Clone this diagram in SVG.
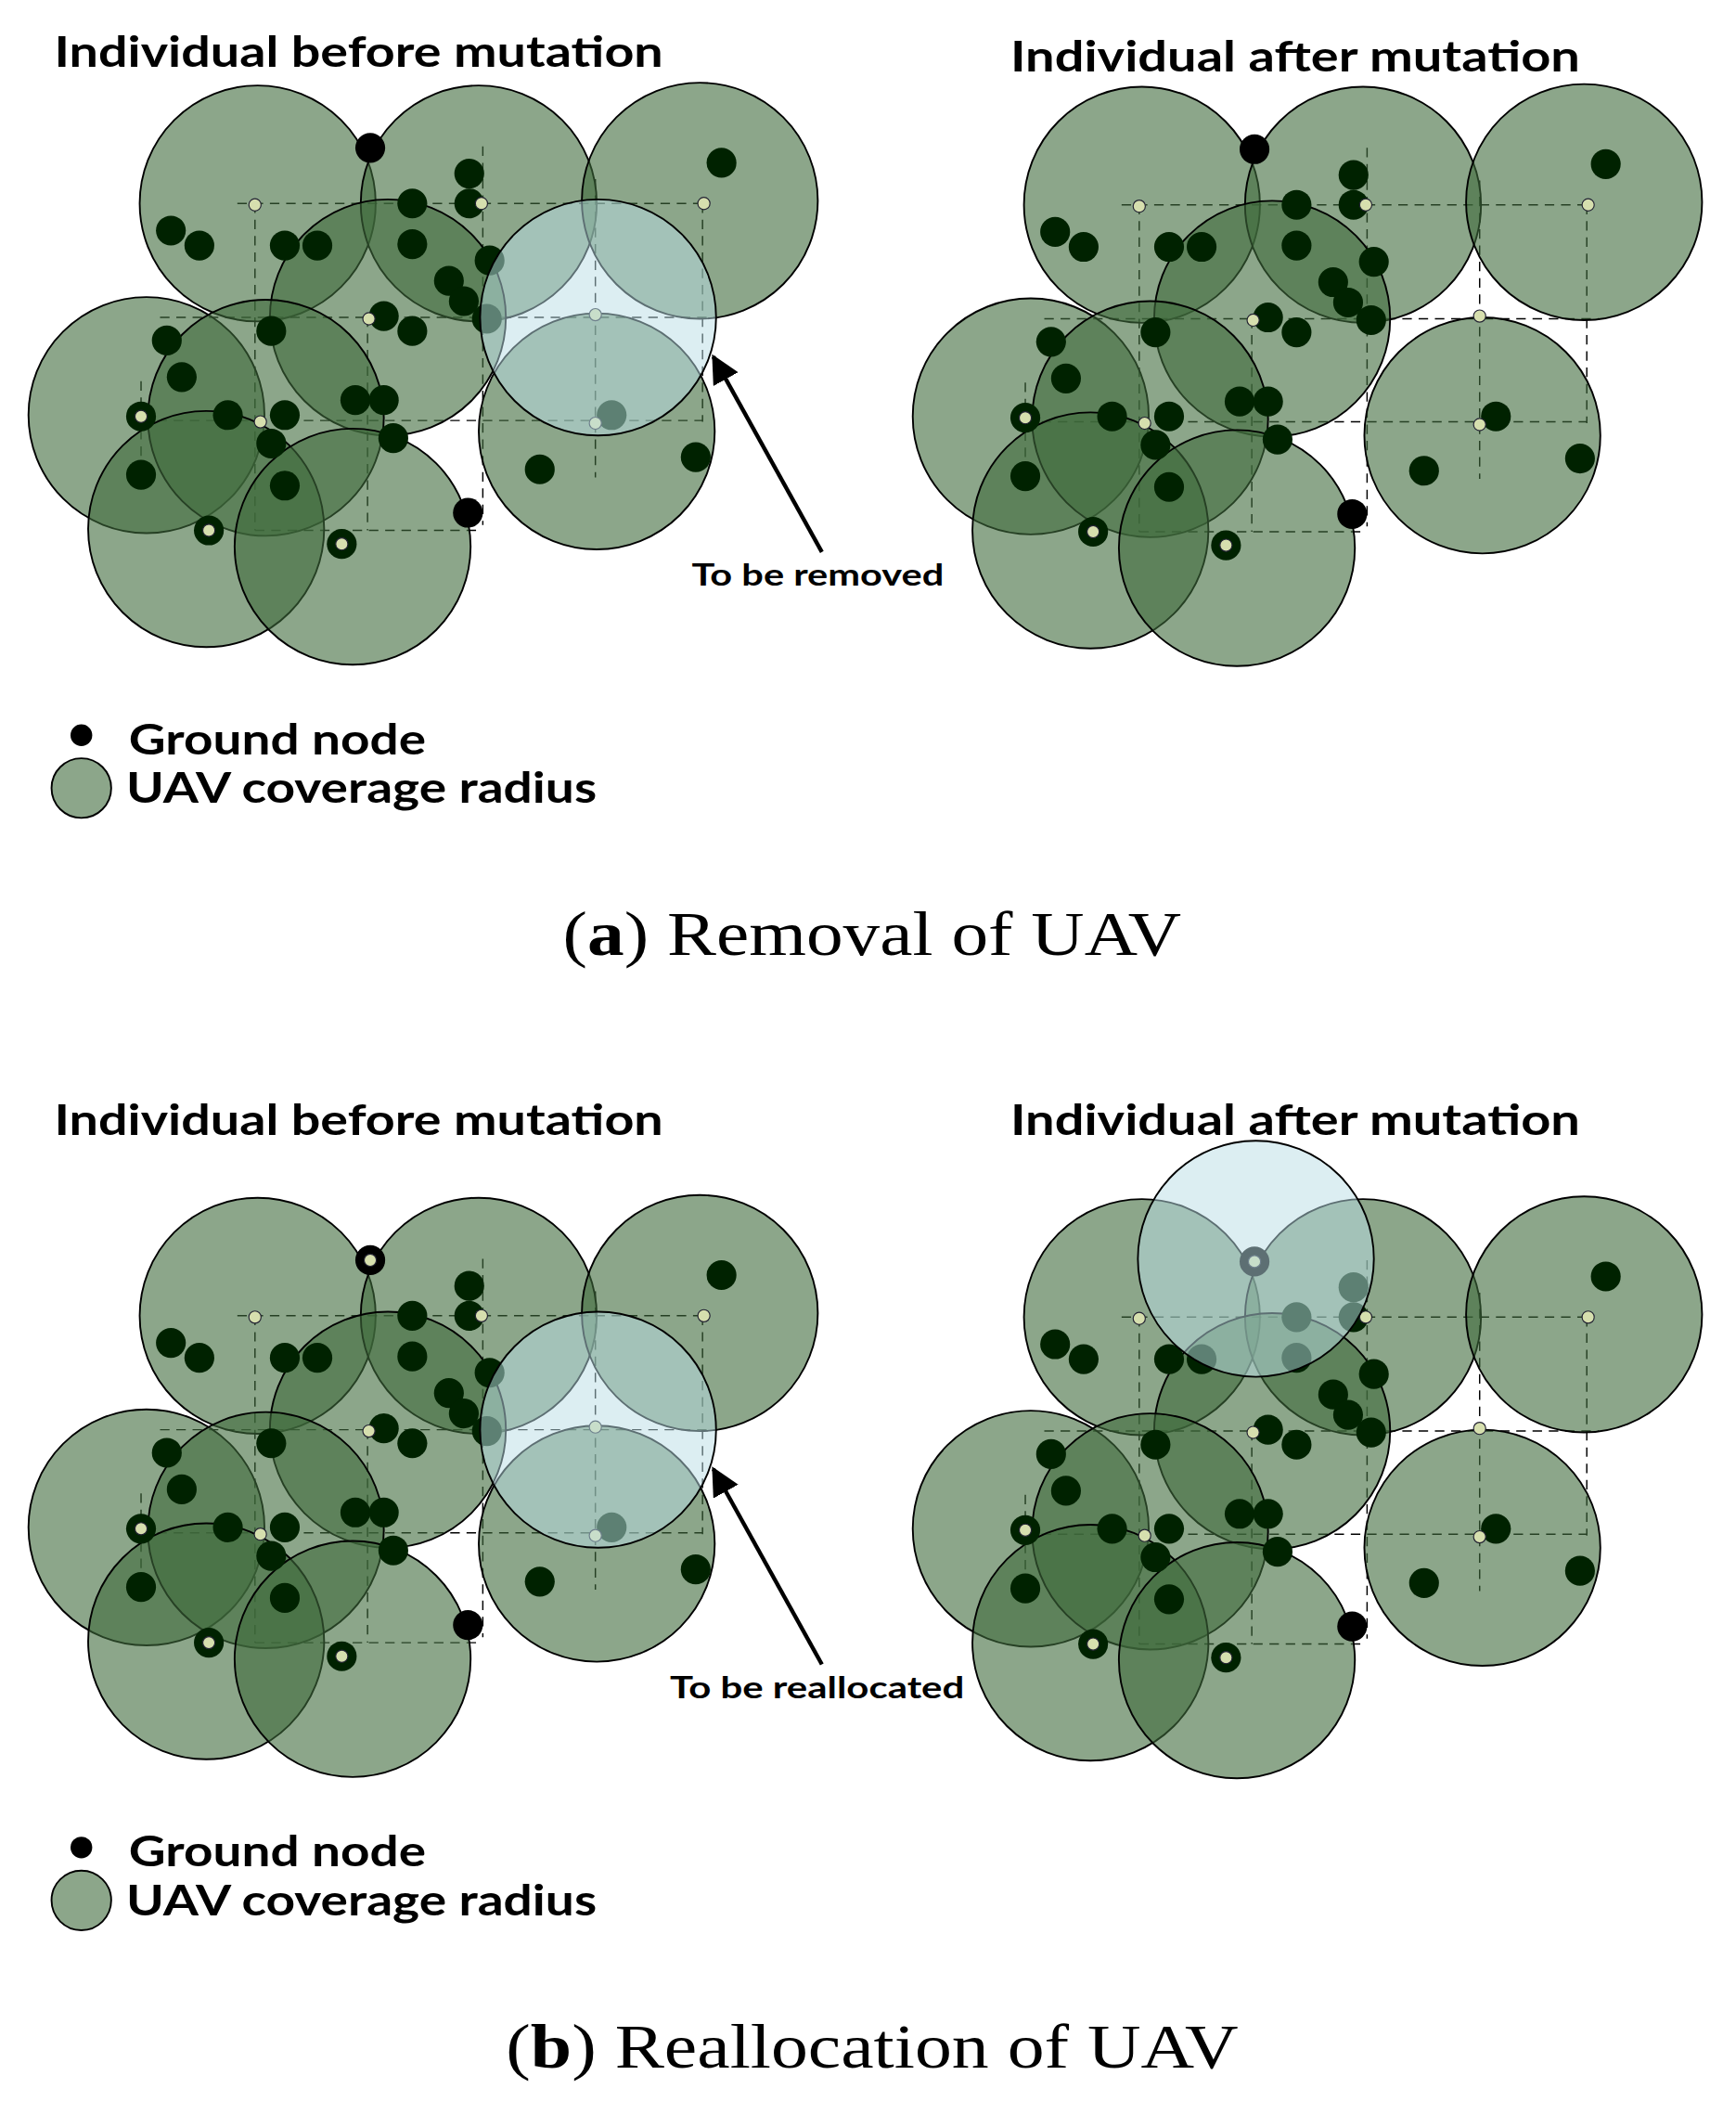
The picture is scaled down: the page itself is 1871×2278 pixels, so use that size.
<svg xmlns="http://www.w3.org/2000/svg" xmlns:xlink="http://www.w3.org/1999/xlink" width="1871" height="2278" viewBox="0 0 1871 2278">
<style>
.g{fill:#3f6a3c;fill-opacity:0.6;stroke:#000;stroke-width:1.3}
.b{fill:#b9dde6;fill-opacity:0.5;stroke:#000;stroke-width:1.3}
.n{fill:#002200}
.u{fill:#d6dfae;stroke:#223;stroke-width:0.8}
.d{stroke:#000;stroke-width:1;stroke-dasharray:7 5;fill:none}
.t{font-family:Lato,"Open Sans","Liberation Sans",sans-serif;font-weight:bold;fill:#000}
.c{font-family:"Liberation Serif",serif;fill:#000;font-size:46px}
</style>
<defs>
<marker id="ah" viewBox="0 0 10 10" refX="9" refY="5" markerWidth="7" markerHeight="7" orient="auto"><path d="M0,0L10,5L0,10z" fill="#000"/></marker>
<g id="grid" class="d">
<path d="M175,150H518M118,234H527M104,310H518M188,391H356M188,150V391M356,108V387M439,132V352M518,150V311M271,234V391M104,281V338"/>
</g>
<g id="circ">
<circle class="g" cx="190" cy="150" r="87"/><circle class="g" cx="353" cy="150" r="87"/><circle class="g" cx="516" cy="148" r="87"/>
<circle class="g" cx="286" cy="234" r="87"/><circle class="g" cx="108" cy="306" r="87"/><circle class="g" cx="196" cy="308" r="87"/>
<circle class="g" cx="152" cy="390" r="87"/><circle class="g" cx="260" cy="403" r="87"/>
</g>
<g id="nodes" class="n">
<circle cx="346" cy="128" r="11"/><circle cx="346" cy="150" r="11"/><circle cx="532" cy="120" r="11"/><circle cx="126" cy="170" r="11"/><circle cx="147" cy="181" r="11"/><circle cx="210" cy="181" r="11"/><circle cx="234" cy="181" r="11"/><circle cx="304" cy="150" r="11"/><circle cx="304" cy="180" r="11"/><circle cx="361" cy="192" r="11"/><circle cx="331" cy="207" r="11"/><circle cx="342" cy="222" r="11"/><circle cx="359" cy="235" r="11"/><circle cx="283" cy="233" r="11"/><circle cx="304" cy="244" r="11"/><circle cx="200" cy="244" r="11"/><circle cx="123" cy="251" r="11"/><circle cx="134" cy="278" r="11"/><circle cx="168" cy="306" r="11"/><circle cx="210" cy="306" r="11"/><circle cx="262" cy="295" r="11"/><circle cx="283" cy="295" r="11"/><circle cx="290" cy="323" r="11"/><circle cx="200" cy="327" r="11"/><circle cx="104" cy="350" r="11"/><circle cx="210" cy="358" r="11"/><circle cx="345" cy="378" r="11" fill="#000"/><circle cx="398" cy="346" r="11"/><circle cx="513" cy="337" r="11"/><circle cx="451" cy="306" r="11"/>
<circle cx="104" cy="307" r="11"/><circle cx="154" cy="391" r="11"/><circle cx="252" cy="401" r="11"/>
</g>
<g id="uav">
<circle class="u" cx="188" cy="151" r="4.5"/><circle class="u" cx="355" cy="150" r="4.5"/><circle class="u" cx="519" cy="150" r="4.5"/><circle class="u" cx="272" cy="235" r="4.5"/><circle class="u" cx="439" cy="232" r="4.5"/><circle class="u" cx="192" cy="311" r="4.5"/><circle class="u" cx="439" cy="312" r="4.5"/><circle class="u" cx="104" cy="307" r="4.5"/><circle class="u" cx="154" cy="391" r="4.5"/><circle class="u" cx="252" cy="401" r="4.5"/>
</g>
</defs>
<g transform="scale(1.4617)">
<g id="panel-a-left">
<use xlink:href="#grid"/><use xlink:href="#circ"/><circle class="g" cx="440" cy="318" r="87"/>
<use xlink:href="#nodes"/><circle cx="273" cy="109" r="11" fill="#000"/><use xlink:href="#uav"/>
<circle class="b" cx="441" cy="234" r="87"/>
</g>
<text class="t" x="40" y="49" font-size="31" textLength="449" lengthAdjust="spacingAndGlyphs">Individual before mutation</text>
<g id="panel-a-right" transform="translate(652,1)">
<use xlink:href="#grid"/><use xlink:href="#circ"/><circle class="g" cx="441" cy="320" r="87"/>
<use xlink:href="#nodes"/><circle cx="273" cy="109" r="11" fill="#000"/><use xlink:href="#uav"/>
</g>
<text class="t" x="745" y="53" font-size="31" textLength="420" lengthAdjust="spacingAndGlyphs">Individual after mutation</text>
<g id="connectors">
<line x1="606" y1="407" x2="526" y2="263" stroke="#000" stroke-width="3" marker-end="url(#ah)"/>
<line x1="606" y1="1227" x2="526" y2="1083" stroke="#000" stroke-width="3" marker-end="url(#ah)"/>
</g>
<text class="t" x="510" y="432" font-size="22" textLength="186" lengthAdjust="spacingAndGlyphs">To be removed</text>
<g id="legend-a">
<circle cx="60" cy="542" r="8" fill="#000"/><text class="t" x="95" y="556" font-size="31" textLength="219" lengthAdjust="spacingAndGlyphs">Ground node</text>
<circle cx="60" cy="581" r="22" fill="#8ca68a" stroke="#000" stroke-width="1.3"/><text class="t" x="93" y="592" font-size="31" textLength="347" lengthAdjust="spacingAndGlyphs">UAV coverage radius</text>
</g>
<text class="c" x="643" y="704" text-anchor="middle" textLength="456" lengthAdjust="spacingAndGlyphs">(<tspan font-weight="bold">a</tspan>) Removal of UAV</text>

<g id="panel-b-left" transform="translate(0,820)">
<use xlink:href="#grid"/><use xlink:href="#circ"/><circle class="g" cx="440" cy="318" r="87"/>
<use xlink:href="#nodes"/><circle cx="273" cy="109" r="11" fill="#000"/><circle class="u" cx="273" cy="109" r="4.5"/><use xlink:href="#uav"/>
<circle class="b" cx="441" cy="234" r="87"/>
</g>
<text class="t" x="40" y="837" font-size="31" textLength="449" lengthAdjust="spacingAndGlyphs">Individual before mutation</text>
<g id="panel-b-right" transform="translate(652,821)">
<use xlink:href="#grid"/><use xlink:href="#circ"/><circle class="g" cx="441" cy="320" r="87"/>
<use xlink:href="#nodes"/><circle cx="273" cy="109" r="11" fill="#000"/><circle class="u" cx="273" cy="109" r="4.5"/><use xlink:href="#uav"/>
<circle class="b" cx="274" cy="107" r="87"/>
</g>
<text class="t" x="745" y="837" font-size="31" textLength="420" lengthAdjust="spacingAndGlyphs">Individual after mutation</text>
<text class="t" x="494" y="1252" font-size="22" textLength="217" lengthAdjust="spacingAndGlyphs">To be reallocated</text>
<g id="legend-b">
<circle cx="60" cy="1362" r="8" fill="#000"/><text class="t" x="95" y="1376" font-size="31" textLength="219" lengthAdjust="spacingAndGlyphs">Ground node</text>
<circle cx="60" cy="1401" r="22" fill="#8ca68a" stroke="#000" stroke-width="1.3"/><text class="t" x="93" y="1412" font-size="31" textLength="347" lengthAdjust="spacingAndGlyphs">UAV coverage radius</text>
</g>
<text class="c" x="643" y="1524" text-anchor="middle" textLength="540" lengthAdjust="spacingAndGlyphs">(<tspan font-weight="bold">b</tspan>) Reallocation of UAV</text>
</g>
</svg>
